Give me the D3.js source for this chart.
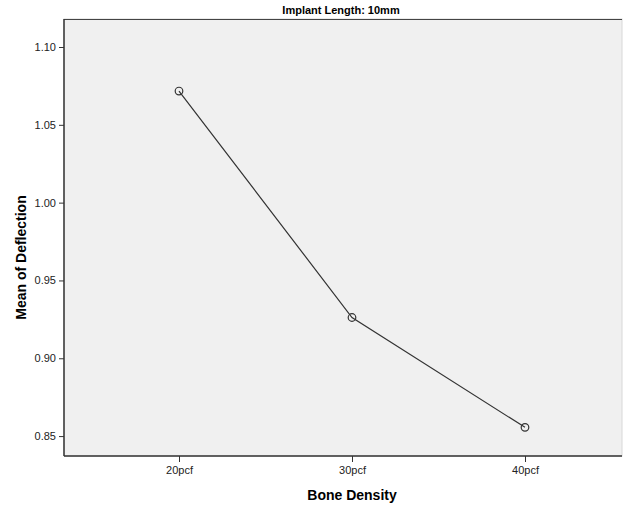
<!DOCTYPE html>
<html>
<head>
<meta charset="utf-8">
<script src="https://cdn.jsdelivr.net/npm/d3@7"></script>
<style>
  body { margin: 0; background: #fff; }
  text { font-family: "Liberation Sans", Arial, sans-serif; }
</style>
</head>
<body>
<div id="chart"></div>
<script>
// data
const categories = ["20pcf", "30pcf", "40pcf"];
const meanDeflection = [1.0717, 0.9262, 0.8556];
const yTicks = [0.85, 0.90, 0.95, 1.00, 1.05, 1.10];

const width = 625;
const height = 507;
const margin = { top: 19, right: 3, bottom: 51, left: 64 };
const w = width - margin.left - margin.right;
const h = height - margin.top - margin.bottom;

const svg = d3.select("#chart").append("svg")
    .attr("width", width)
    .attr("height", height);

const g = svg.append("g")
    .attr("transform", `translate(${margin.left},${margin.top})`);

const x = d3.scalePoint()
    .domain(categories)
    .range([115, 461]);

const y = d3.scaleLinear()
    .domain([0.8372, 1.118])
    .range([h, 0]);

// plot background
g.append("rect")
    .attr("width", w)
    .attr("height", h)
    .attr("fill", "#f0f0f0")
    .attr("stroke", "#d8d8d8");

// top border line is dark in the reference
g.append("line")
    .attr("x1", 0).attr("x2", w)
    .attr("y1", 0.5).attr("y2", 0.5)
    .attr("stroke", "#444");

// axes
const yAxis = g.append("g")
    .call(d3.axisLeft(y).tickValues(yTicks).tickFormat(d3.format(".2f")).tickSize(5).tickSizeOuter(0));
const xAxis = g.append("g")
    .attr("transform", `translate(0,${h})`)
    .call(d3.axisBottom(x).tickSize(6).tickSizeOuter(0).tickPadding(4));

[yAxis, xAxis].forEach(a => {
    a.select(".domain").attr("stroke", "#333").attr("stroke-width", 1.5);
    a.selectAll(".tick line").attr("stroke", "#333");
    a.selectAll(".tick text")
        .attr("fill", "#222")
        .style("font-size", "11px")
        .style("font-family", "'Liberation Sans', Arial, sans-serif");
});
xAxis.select(".domain").attr("d", `M0,0H${w}`);
yAxis.select(".domain").attr("d", `M0,0V${h}`);

// line and markers
const pts = categories.map((c, i) => ({ c, v: meanDeflection[i] }));

g.append("path")
    .datum(pts)
    .attr("fill", "none")
    .attr("stroke", "#333")
    .attr("stroke-width", 1.2)
    .attr("d", d3.line().x(d => x(d.c)).y(d => y(d.v)));

g.selectAll(".pt")
    .data(pts)
    .join("circle")
    .attr("class", "pt")
    .attr("cx", d => x(d.c))
    .attr("cy", d => y(d.v))
    .attr("r", 3.8)
    .attr("fill", "none")
    .attr("stroke", "#333")
    .attr("stroke-width", 1.2);

// titles
svg.append("text")
    .attr("x", margin.left + w / 2 - 2)
    .attr("y", 14)
    .attr("text-anchor", "middle")
    .style("font-size", "11px")
    .style("font-weight", "bold")
    .text("Implant Length: 10mm");

svg.append("text")
    .attr("x", margin.left + x("30pcf"))
    .attr("y", 500)
    .attr("text-anchor", "middle")
    .style("font-size", "14px")
    .style("font-weight", "bold")
    .text("Bone Density");

svg.append("text")
    .attr("transform", "rotate(-90)")
    .attr("x", -(margin.top + h / 2 + 20))
    .attr("y", 26)
    .attr("text-anchor", "middle")
    .style("font-size", "14px")
    .style("font-weight", "bold")
    .text("Mean of Deflection");
</script>
</body>
</html>
